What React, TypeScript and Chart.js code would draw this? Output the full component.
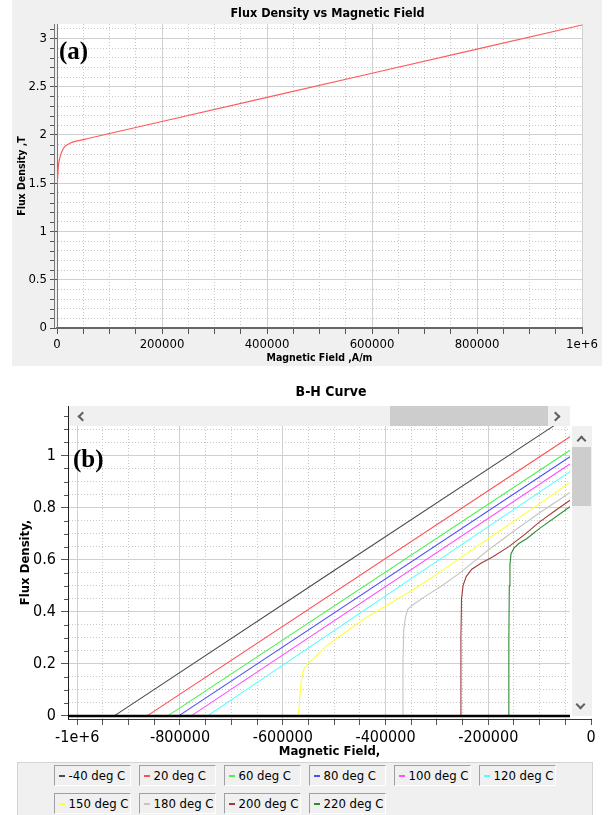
import React, { useEffect, useRef } from 'react';
import { Chart, registerables } from 'chart.js';

Chart.register(...registerables);

const SANS = "'DejaVu Sans Condensed', 'Liberation Sans', sans-serif";
const SERIF = "'Liberation Serif', 'DejaVu Serif', serif";

// ---------------- Chart (a) data ----------------
const aTitle = 'Flux Density vs Magnetic Field';
const aXTitle = 'Magnetic Field ,A/m';
const aYTitle = 'Flux Density ,T';
const aPanelLabel = '(a)';
const aH = [0, 600, 2500, 5700, 12000, 21500, 31000, 50000, 100000, 200000, 400000, 600000, 800000, 1000000];
const aB = [1.46, 1.5, 1.67, 1.77, 1.86, 1.905, 1.928, 1.952, 2.015, 2.14, 2.39, 2.64, 2.89, 3.14];
const aXLimits = [0, 1000000];
const aYLimits = [0, 3.15];
const aXMajor = [0, 200000, 400000, 600000, 800000, 1000000];
const aXLabels = ['0', '200000', '400000', '600000', '800000', '1e+6'];
const aYMajor = [0, 0.5, 1, 1.5, 2, 2.5, 3];
const aYLabels = ['0', '0.5', '1', '1.5', '2', '2.5', '3'];
const aXMinorStep = 50000;
const aYMinorStep = 0.1;

// ---------------- Chart (b) data ----------------
const bTitle = 'B-H Curve';
const bXTitle = 'Magnetic Field,';
const bYTitle = 'Flux Density,';
const bPanelLabel = '(b)';
const bTemps = [-40, 20, 60, 80, 100, 120, 150, 180, 200, 220];
const bColors = ['#4a4a4a', '#ff4d4d', '#4df04d', '#4d4dff', '#ff4dff', '#4dffff', '#ffff3a', '#c4c4c4', '#a33a3a', '#2e8b2e'];
const hM40 = [-927900, -500000, -40900];
const bM40 = [0, 0.558, 1.155];
const h20 = [-864100, -40900];
const b20 = [0, 1.072];
const h60 = [-823800, -40900];
const b60 = [0, 1.02];
const h80 = [-802600, -40900];
const b80 = [0, 0.995];
const h100 = [-778300, -40900];
const b100 = [0, 0.967];
const h120 = [-746400, -40900];
const b120 = [0, 0.938];
const h150 = [-569500, -567200, -564200, -559600, -550500, -535300, -516300, -489800, -444200, -398600, -345500, -292300, -200000, -100000, -40900];
const b150 = [0, 0.062, 0.132, 0.177, 0.203, 0.228, 0.267, 0.305, 0.369, 0.423, 0.485, 0.555, 0.68, 0.815, 0.896];
const h180 = [-366700, -366000, -364500, -361000, -356900, -349300, -322700, -292300, -254400, -201200, -150000, -100000, -40900];
const b180 = [0, 0.2, 0.33, 0.38, 0.408, 0.423, 0.459, 0.497, 0.55, 0.635, 0.71, 0.78, 0.858];
const h200 = [-253600, -253200, -252000, -249000, -243000, -232000, -215000, -190000, -160000, -130000, -100000, -70000, -40900];
const b200 = [0, 0.3, 0.45, 0.5, 0.535, 0.563, 0.585, 0.612, 0.65, 0.695, 0.745, 0.788, 0.828];
const h220 = [-160200, -159900, -159000, -157800, -155700, -149600, -140500, -125300, -100000, -40900];
const b220 = [0, 0.3, 0.5, 0.58, 0.623, 0.645, 0.662, 0.68, 0.72, 0.803];
const bSeriesH = [hM40, h20, h60, h80, h100, h120, h150, h180, h200, h220];
const bSeriesB = [bM40, b20, b60, b80, b100, b120, b150, b180, b200, b220];
const bZeroH = [-1018000, -40900];
const bZeroB = [0, 0];
const bXLimits = [-1018000, 0];
const bYLimits = [-0.012, 1.19];
const bXMajor = [-1000000, -800000, -600000, -400000, -200000, 0];
const bXLabels = ['-1e+6', '-800000', '-600000', '-400000', '-200000', '0'];
const bYMajor = [0, 0.2, 0.4, 0.6, 0.8, 1];
const bYLabels = ['0', '0.2', '0.4', '0.6', '0.8', '1'];
const bXMinorStep = 50000;
const bYMinorStep = 0.05;

// ---------------- helpers ----------------
const GRID_MAJOR = 'rgb(208,208,208)';
const GRID_MINOR = 'rgb(200,200,200)';
const TICK_COLOR = '#555';

function majorIndex(v: number, majors: number[]) {
  return majors.findIndex((m) => Math.abs(v - m) < 1e-6 * Math.max(1, Math.abs(m)));
}

function tickList(limits: number[], step: number) {
  const first = Math.ceil(limits[0] / step - 1e-9);
  const last = Math.floor(limits[1] / step + 1e-9);
  const out: { value: number }[] = [];
  for (let i = first; i <= last; i++) out.push({ value: +(i * step).toFixed(6) });
  return out;
}

function makeAxis(o: any) {
  return {
    type: 'linear',
    min: o.limits[0],
    max: o.limits[1],
    afterBuildTicks: (s: any) => {
      s.ticks = tickList(o.limits, o.minorStep);
    },
    afterFit: (s: any) => {
      if (s.isHorizontal()) s.height = o.size;
      else s.width = o.size;
    },
    ticks: {
      autoSkip: false,
      maxRotation: 0,
      minRotation: 0,
      padding: o.tickPad,
      color: '#000',
      font: { family: SANS, size: o.tickSize },
      callback: (v: number) => {
        const i = majorIndex(v, o.majors);
        return i >= 0 ? o.labels[i] : '';
      },
    },
    grid: {
      lineWidth: 1,
      tickLength: o.tickLen,
      tickColor: (c: any) =>
        o.shortMinor && c.tick && majorIndex(c.tick.value, o.majors) < 0 ? 'rgba(0,0,0,0)' : TICK_COLOR,
      color: (c: any) => (c.tick && majorIndex(c.tick.value, o.majors) >= 0 ? GRID_MAJOR : GRID_MINOR),
    },
    border: {
      display: true,
      color: o.borderColor,
      width: o.borderWidth,
      dash: (c: any) => (c.tick && majorIndex(c.tick.value, o.majors) < 0 ? [1, 2] : []),
    },
    title: {
      display: true,
      text: o.title,
      color: '#000',
      font: { family: SANS, size: o.titleSize, weight: 'bold', lineHeight: 1.2 },
      padding: o.titlePad,
    },
  };
}

// short minor ticks on a vertical (left) axis, placed through the scale
function drawMinorY(chart: any, majors: number[], len: number, gap: number) {
  const { ctx } = chart;
  const s = chart.scales.y;
  ctx.save();
  ctx.strokeStyle = TICK_COLOR;
  ctx.lineWidth = 1;
  for (const t of s.ticks) {
    if (majorIndex(t.value, majors) >= 0) continue;
    const y = Math.round(s.getPixelForValue(t.value)) + 0.5;
    ctx.beginPath();
    ctx.moveTo(s.right - gap, y);
    ctx.lineTo(s.right - gap - len, y);
    ctx.stroke();
  }
  ctx.restore();
}

function buildA(): any {
  return {
    type: 'scatter',
    data: {
      datasets: [
        {
          label: aYTitle,
          data: aH.map((h, i) => ({ x: h, y: aB[i] })),
          showLine: true,
          borderColor: '#ff5a5a',
          borderWidth: 1.2,
          pointRadius: 0,
          cubicInterpolationMode: 'monotone',
          fill: false,
        },
      ],
    },
    options: {
      animation: false,
      responsive: false,
      devicePixelRatio: 1,
      events: [],
      layout: { padding: { top: 24, right: 20, left: 0, bottom: 0 } },
      plugins: { legend: { display: false }, tooltip: { enabled: false }, title: { display: false } },
      scales: {
        x: makeAxis({
          limits: aXLimits, majors: aXMajor, labels: aXLabels, minorStep: aXMinorStep,
          size: 38, tickPad: 3.2, tickLen: 6, tickSize: 13, borderColor: '#666', borderWidth: 2,
          title: aXTitle, titleSize: 10.5, titlePad: { top: 0, bottom: 1.7 },
        }),
        y: makeAxis({
          limits: aYLimits, majors: aYMajor, labels: aYLabels, minorStep: aYMinorStep,
          size: 45, tickPad: 3, tickLen: 7, tickSize: 13, borderColor: '#777', borderWidth: 1,
          title: aYTitle, titleSize: 10.5, titlePad: { top: 3.7, bottom: 0 }, shortMinor: true,
        }),
      },
    },
    plugins: [
      {
        id: 'decorA',
        beforeDraw(chart: any) {
          const { ctx, chartArea } = chart;
          ctx.save();
          ctx.fillStyle = '#ffffff';
          ctx.fillRect(chartArea.left, chartArea.top, chartArea.right - chartArea.left, chartArea.bottom - chartArea.top);
          ctx.restore();
        },
        afterDraw(chart: any) {
          const { ctx, chartArea } = chart;
          drawMinorY(chart, aYMajor, 4, 3);
          ctx.save();
          ctx.strokeStyle = '#777';
          ctx.lineWidth = 1;
          ctx.beginPath();
          ctx.moveTo(chartArea.left - 2.5, chartArea.top);
          ctx.lineTo(chartArea.left - 2.5, chartArea.bottom);
          ctx.stroke();
          ctx.fillStyle = '#000';
          ctx.textBaseline = 'middle';
          ctx.textAlign = 'center';
          ctx.font = `bold 12.5px ${SANS}`;
          ctx.fillText(aTitle, (chartArea.left + chartArea.right) / 2 + 8, 14);
          ctx.textAlign = 'left';
          ctx.textBaseline = 'alphabetic';
          ctx.font = `bold 25px ${SERIF}`;
          ctx.fillText(aPanelLabel, chartArea.left + 2, chartArea.top + 35);
          ctx.restore();
        },
      },
    ],
  };
}

function buildB(): any {
  const datasets: any[] = bSeriesH.map((hs, i) => ({
    label: `${bTemps[i]} deg C`,
    data: hs.map((h, j) => ({ x: h, y: bSeriesB[i][j] })),
    showLine: true,
    borderColor: bColors[i],
    borderWidth: 1.1,
    pointRadius: 0,
    fill: false,
    order: 1,
  }));
  datasets.push({
    label: 'zero',
    data: bZeroH.map((h, j) => ({ x: h, y: bZeroB[j] })),
    showLine: true,
    borderColor: '#000',
    borderWidth: 2.5,
    pointRadius: 0,
    fill: false,
    order: -1,
  });
  return {
    type: 'scatter',
    data: { datasets },
    options: {
      animation: false,
      responsive: false,
      devicePixelRatio: 1,
      events: [],
      layout: { padding: { top: 28, right: 21, left: 0, bottom: 0 } },
      plugins: { legend: { display: false }, tooltip: { enabled: false }, title: { display: false } },
      scales: {
        x: makeAxis({
          limits: bXLimits, majors: bXMajor, labels: bXLabels, minorStep: bXMinorStep,
          size: 41, tickPad: 3.4, tickLen: 6, tickSize: 16, borderColor: '#333', borderWidth: 1,
          title: bXTitle, titleSize: 13, titlePad: { top: 0, bottom: 0.2 },
        }),
        y: makeAxis({
          limits: bYLimits, majors: bYMajor, labels: bYLabels, minorStep: bYMinorStep,
          size: 68, tickPad: 5, tickLen: 7, tickSize: 16, borderColor: '#222', borderWidth: 1,
          title: bYTitle, titleSize: 13, titlePad: { top: 17.7, bottom: 0 }, shortMinor: true,
        }),
      },
    },
    plugins: [
      {
        id: 'decorB',
        afterDraw(chart: any) {
          const { ctx, chartArea } = chart;
          drawMinorY(chart, bYMajor, 4, 0);
          ctx.save();
          ctx.fillStyle = '#000';
          ctx.textBaseline = 'middle';
          ctx.textAlign = 'center';
          ctx.font = `bold 14px ${SANS}`;
          ctx.fillText(bTitle, (chartArea.left + chartArea.right) / 2 + 1.5, 14);
          ctx.textAlign = 'left';
          ctx.textBaseline = 'alphabetic';
          ctx.font = `bold 25px ${SERIF}`;
          ctx.fillText(bPanelLabel, chartArea.left + 5, chartArea.top + 61);
          ctx.restore();
        },
      },
    ],
  };
}

function ChartCanvas(props: { left: number; top: number; width: number; height: number; background: string; build: () => any }) {
  const ref = useRef<HTMLCanvasElement>(null);
  useEffect(() => {
    const chart = new Chart(ref.current as HTMLCanvasElement, props.build());
    return () => chart.destroy();
  }, []);
  return (
    <canvas
      ref={ref}
      width={props.width}
      height={props.height}
      style={{ position: 'absolute', left: props.left, top: props.top, width: props.width, height: props.height, background: props.background }}
    />
  );
}

function Chevron(props: { cx: number; cy: number; dir: 'left' | 'right' | 'up' | 'down' }) {
  const rot = { left: -45, up: 45, right: 135, down: 225 }[props.dir];
  const v = { left: [-1, 0], right: [1, 0], up: [0, -1], down: [0, 1] }[props.dir];
  const s = 7;
  const cx = props.cx - 2.4 * v[0];
  const cy = props.cy - 2.4 * v[1];
  return (
    <div
      style={{
        position: 'absolute',
        left: cx - s / 2,
        top: cy - s / 2,
        width: s,
        height: s,
        boxSizing: 'border-box',
        borderLeft: '2px solid #606060',
        borderTop: '2px solid #606060',
        transform: `rotate(${rot}deg)`,
      }}
    />
  );
}

export default function App() {
  const legendLabels = bTemps.map((t) => `${t} deg C`);
  return (
    <div style={{ position: 'absolute', left: 0, top: 0, width: 612, height: 815, overflow: 'hidden', background: '#fff' }}>
      <ChartCanvas left={12} top={0} width={590} height={366} background="#f0f0f0" build={buildA} />
      <ChartCanvas left={0} top={378} width={612} height={382} background="#ffffff" build={buildB} />

      {/* mask right of plot (b) */}
      <div style={{ position: 'absolute', left: 570, top: 398, width: 26, height: 320, background: '#fff' }} />
      {/* horizontal scrollbar */}
      <div style={{ position: 'absolute', left: 69, top: 406, width: 501, height: 19.5, background: '#f0f0f0' }} />
      <div style={{ position: 'absolute', left: 390, top: 406, width: 158, height: 19.5, background: '#cdcdcd' }} />
      <Chevron cx={80} cy={416} dir="left" />
      <Chevron cx={558} cy={416} dir="right" />
      {/* vertical scrollbar */}
      <div style={{ position: 'absolute', left: 572, top: 426, width: 20, height: 290, background: '#f0f0f0' }} />
      <div style={{ position: 'absolute', left: 572, top: 447, width: 19, height: 59, background: '#cdcdcd' }} />
      <Chevron cx={581.5} cy={438.5} dir="up" />
      <Chevron cx={580.5} cy={707} dir="down" />

      {/* legend */}
      <div
        style={{
          position: 'absolute',
          left: 17,
          top: 762,
          width: 576,
          height: 70,
          background: '#f0f0f0',
          border: '1px solid #d4d4d4',
          boxSizing: 'border-box',
        }}
      />
      {legendLabels.map((lab, i) => {
        const col = i % 6;
        const row = Math.floor(i / 6);
        const left = 53.5 + col * 85;
        const top = 765 + row * 28;
        return (
          <div
            key={lab}
            style={{
              position: 'absolute',
              left,
              top,
              width: 77,
              height: 21,
              boxSizing: 'border-box',
              borderTop: '1px solid #a0a0a0',
              borderLeft: '1px solid #a0a0a0',
              borderBottom: '1px solid #ffffff',
              borderRight: '1px solid #ffffff',
              background: '#f0f0f0',
            }}
          >
            <div style={{ position: 'absolute', left: 4, top: 9, width: 6, height: 2, background: bColors[i] }} />
            <div
              style={{
                position: 'absolute',
                left: 14,
                top: 0,
                height: 19,
                lineHeight: '19px',
                fontFamily: SANS,
                fontSize: 13,
                color: '#000',
                whiteSpace: 'nowrap',
              }}
            >
              {lab}
            </div>
          </div>
        );
      })}
    </div>
  );
}
